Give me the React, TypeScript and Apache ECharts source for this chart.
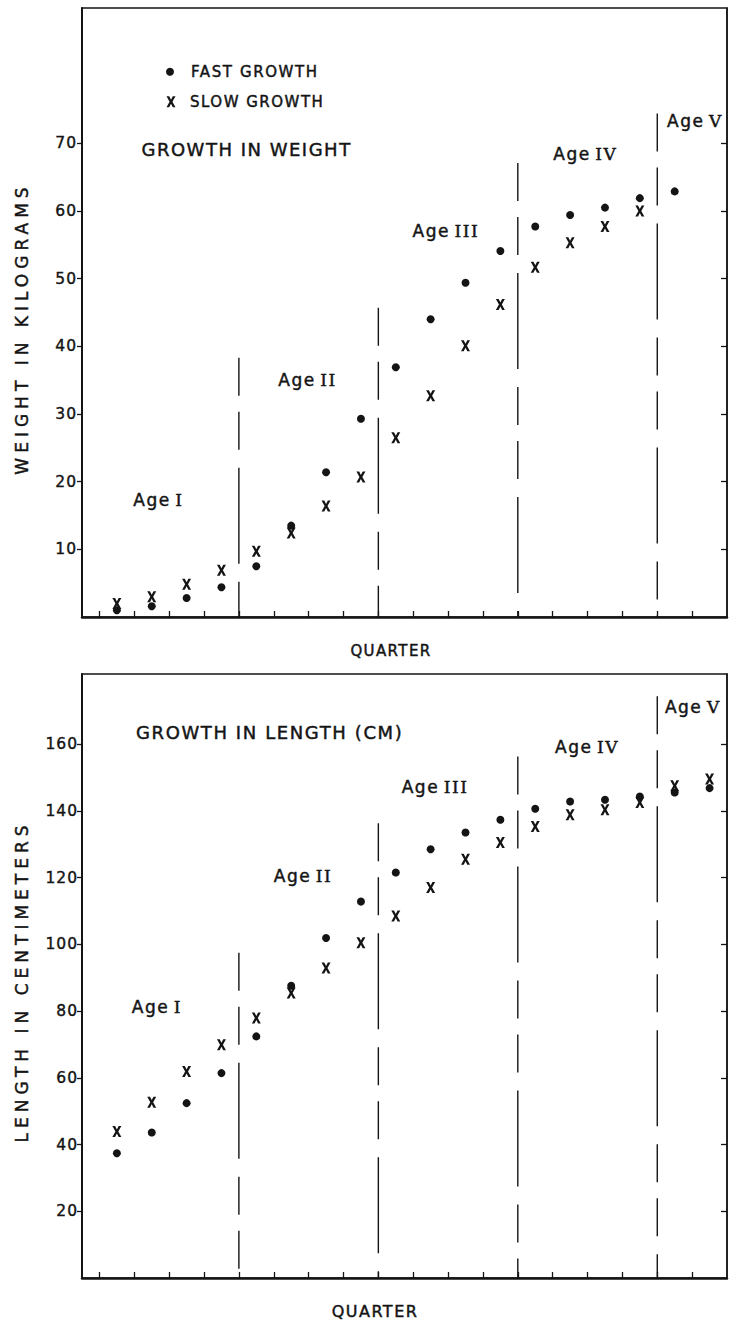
import React, { useEffect, useRef } from 'react';
import * as echarts from 'echarts';

// ---------- data ----------
const quarters = [1, 2, 3, 4, 5, 6, 7, 8, 9, 10, 11, 12, 13, 14, 15, 16, 17, 18];
const weightFast = [1.0, 1.6, 2.8, 4.4, 7.5, 13.5, 21.4, 29.3, 36.9, 44.0, 49.4, 54.1, 57.7, 59.4, 60.5, 61.9, 62.9];
const weightSlow = [2.0, 3.0, 4.85, 6.9, 9.7, 12.4, 16.4, 20.7, 26.5, 32.7, 40.1, 46.2, 51.7, 55.3, 57.7, 60.0];
const lengthFast = [37.4, 43.6, 52.4, 61.4, 72.4, 87.6, 101.9, 112.8, 121.5, 128.5, 133.5, 137.3, 140.6, 142.8, 143.3, 144.3, 145.5, 146.8];
const lengthSlow = [43.9, 52.7, 61.9, 69.9, 77.9, 85.4, 92.9, 100.5, 108.5, 117.0, 125.5, 130.5, 135.3, 138.8, 140.3, 142.5, 147.5, 149.5];
const ageBoundaries = [4, 8, 12, 16];
const weightBoundaryTops = [38.3, 45.7, 67.1, 74.4];
const lengthBoundaryTops = [97.5, 136.3, 156.3, 174.3];
const ageNumerals = ['I', 'II', 'III', 'IV', 'V'];
const weightAgeLabelPos = [[0.97, 17.3], [5.13, 35.0], [8.98, 57.1], [13.02, 68.4], [16.28, 73.3]];
const lengthAgeLabelPos = [[0.93, 81.3], [5.0, 120.5], [8.67, 147.2], [13.07, 159.1], [16.22, 171.2]];
const weightTicks = [10, 20, 30, 40, 50, 60, 70];
const lengthTicks = [20, 40, 60, 80, 100, 120, 140, 160];
const quarterTicks = [0, 1, 2, 3, 4, 5, 6, 7, 8, 9, 10, 11, 12, 13, 14, 15, 16, 17];

// ---------- style ----------
const INK = '#141414';
const XMARK = 'M0,0 L3,0 L5,3.8 L7,0 L10,0 L6.6,6 L10,12 L7,12 L5,8.2 L3,12 L0,12 L3.4,6 Z';
echarts.graphic.registerShape('xmark', echarts.graphic.extendPath(XMARK, {}));

const spaced = (family: string, px: number) => `${family};letter-spacing:${px}px`;

const toPoints = (vals: number[]) => vals.map((v, i) => [quarters[i] - 0.5, v]);

function boundarySeries(grid: number, tops: number[]) {
  return {
    type: 'custom',
    xAxisIndex: grid,
    yAxisIndex: grid * 2,
    silent: true,
    z: 1,
    data: ageBoundaries.map((b, i) => [b, tops[i]]),
    renderItem: (_p: any, api: any) => {
      const x = api.value(0);
      const top = api.value(1);
      const a = api.coord([x, top]);
      const b = api.coord([x, 0]);
      return {
        type: 'line',
        shape: { x1: a[0], y1: a[1], x2: b[0], y2: b[1] },
        style: { stroke: INK, lineWidth: 1.4, lineDash: [38, 16, 38, 18, 96, 18] },
      };
    },
  };
}

function ageLabelSeries(grid: number, pos: number[][]) {
  return {
    type: 'custom',
    xAxisIndex: grid,
    yAxisIndex: grid * 2,
    silent: true,
    z: 3,
    data: pos,
    renderItem: (params: any, api: any) => {
      const p = api.coord([api.value(0), api.value(1)]);
      const common = {
        fill: INK,
        stroke: INK,
        lineWidth: 0.45,
        fontSize: 17,
        align: 'left',
        verticalAlign: 'middle',
        textAlign: 'left',
        textVerticalAlign: 'middle',
      };
      return {
        type: 'group',
        children: [
          { type: 'text', x: p[0], y: p[1], style: { ...common, text: 'Age', fontFamily: spaced('DejaVu Sans', 1.5) } },
          {
            type: 'text',
            x: p[0] + 42,
            y: p[1],
            style: { ...common, text: ageNumerals[params.dataIndex], fontFamily: spaced('DejaVu Serif', 1.5) },
          },
        ],
      };
    },
  };
}

function xAxisFor(grid: number) {
  return {
    type: 'value',
    gridIndex: grid,
    min: -0.5,
    max: 18,
    axisLine: { show: true, onZero: false, lineStyle: { color: INK, width: 2.5 } },
    axisTick: { show: true, inside: true, length: 6, customValues: quarterTicks, lineStyle: { color: INK, width: 1.3 } },
    axisLabel: { show: false },
    splitLine: { show: false },
  };
}

function yAxesFor(grid: number, max: number, ticks: number[], margin: number) {
  return [
    {
      type: 'value',
      gridIndex: grid,
      position: 'left',
      min: 0,
      max,
      axisLine: { show: true, onZero: false, lineStyle: { color: INK, width: 2 } },
      axisTick: { show: true, inside: false, length: 5, customValues: ticks, lineStyle: { color: INK, width: 1.3 } },
      axisLabel: {
        show: true,
        customValues: ticks,
        margin,
        color: INK,
        fontSize: 15.5,
        fontFamily: spaced('DejaVu Sans', 1),
        textBorderColor: INK,
        textBorderWidth: 0.4,
      },
      splitLine: { show: false },
    },
    {
      type: 'value',
      gridIndex: grid,
      position: 'right',
      min: 0,
      max,
      axisLine: { show: true, onZero: false, lineStyle: { color: INK, width: 1.5 } },
      axisTick: { show: true, inside: true, length: 6, customValues: ticks, lineStyle: { color: INK, width: 1.3 } },
      axisLabel: { show: false },
      splitLine: { show: false },
    },
  ];
}

function scatterPair(grid: number, fast: number[], slow: number[]) {
  return [
    {
      name: 'FAST GROWTH',
      type: 'scatter',
      xAxisIndex: grid,
      yAxisIndex: grid * 2,
      symbol: 'circle',
      symbolSize: 8,
      itemStyle: { color: INK, opacity: 1 },
      z: 4,
      data: toPoints(fast),
    },
    {
      name: 'SLOW GROWTH',
      type: 'scatter',
      xAxisIndex: grid,
      yAxisIndex: grid * 2,
      symbol: 'path://' + XMARK,
      symbolSize: [9, 11],
      symbolKeepAspect: false,
      itemStyle: { color: INK, opacity: 1 },
      z: 4,
      data: toPoints(slow),
    },
  ];
}

function txt(x: number, y: number, text: string, size: number, spacing: number, align = 'left', extra: any = {}) {
  return {
    type: 'text',
    x,
    y,
    ...extra,
    style: {
      text,
      fill: INK,
      stroke: INK,
      lineWidth: 0.45,
      fontSize: size,
      fontFamily: spaced('DejaVu Sans', spacing),
      align,
      verticalAlign: 'middle',
      textAlign: align,
      textVerticalAlign: 'middle',
    },
  };
}

export default function App() {
  const ref = useRef<HTMLDivElement>(null);

  useEffect(() => {
    if (!ref.current) return;
    const chart = echarts.init(ref.current, undefined, { renderer: 'svg' });
    chart.setOption({
      animation: false,
      backgroundColor: '#ffffff',
      grid: [
        { left: 82, top: 8, width: 645, height: 609, show: true, borderColor: INK, borderWidth: 1.5, backgroundColor: 'transparent' },
        { left: 82, top: 674, width: 645, height: 604, show: true, borderColor: INK, borderWidth: 1.5, backgroundColor: 'transparent' },
      ],
      xAxis: [xAxisFor(0), xAxisFor(1)],
      yAxis: [...yAxesFor(0, 90, weightTicks, 5), ...yAxesFor(1, 181, lengthTicks, 4)],
      series: [
        boundarySeries(0, weightBoundaryTops),
        boundarySeries(1, lengthBoundaryTops),
        ageLabelSeries(0, weightAgeLabelPos),
        ageLabelSeries(1, lengthAgeLabelPos),
        ...scatterPair(0, weightFast, weightSlow),
        ...scatterPair(1, lengthFast, lengthSlow),
      ],
      graphic: [
        { type: 'circle', shape: { cx: 170, cy: 71.7, r: 4 }, style: { fill: INK } },
        { type: 'xmark', x: 166.5, y: 96.2, scaleX: 0.9, scaleY: 11 / 12, style: { fill: INK } },
        txt(191, 71.7, 'FAST GROWTH', 15, 1.6),
        txt(190, 101.7, 'SLOW GROWTH', 15, 1.5),
        txt(141.5, 149.3, 'GROWTH IN WEIGHT', 18, 1.5),
        txt(136, 732.7, 'GROWTH IN LENGTH (CM)', 18, 1.6),
        txt(22, 328.5, 'WEIGHT IN KILOGRAMS', 17, 5, 'center', { rotation: Math.PI / 2 }),
        txt(21.5, 981.5, 'LENGTH IN CENTIMETERS', 17, 5, 'center', { rotation: Math.PI / 2 }),
        txt(391, 651, 'QUARTER', 15, 1.4, 'center'),
        txt(375, 1311.7, 'QUARTER', 16, 1.5, 'center'),
      ],
    });
    return () => chart.dispose();
  }, []);

  return (
    <div
      ref={ref}
      style={{ position: 'absolute', left: 0, top: 0, width: 729, height: 1324, background: '#ffffff' }}
    />
  );
}
